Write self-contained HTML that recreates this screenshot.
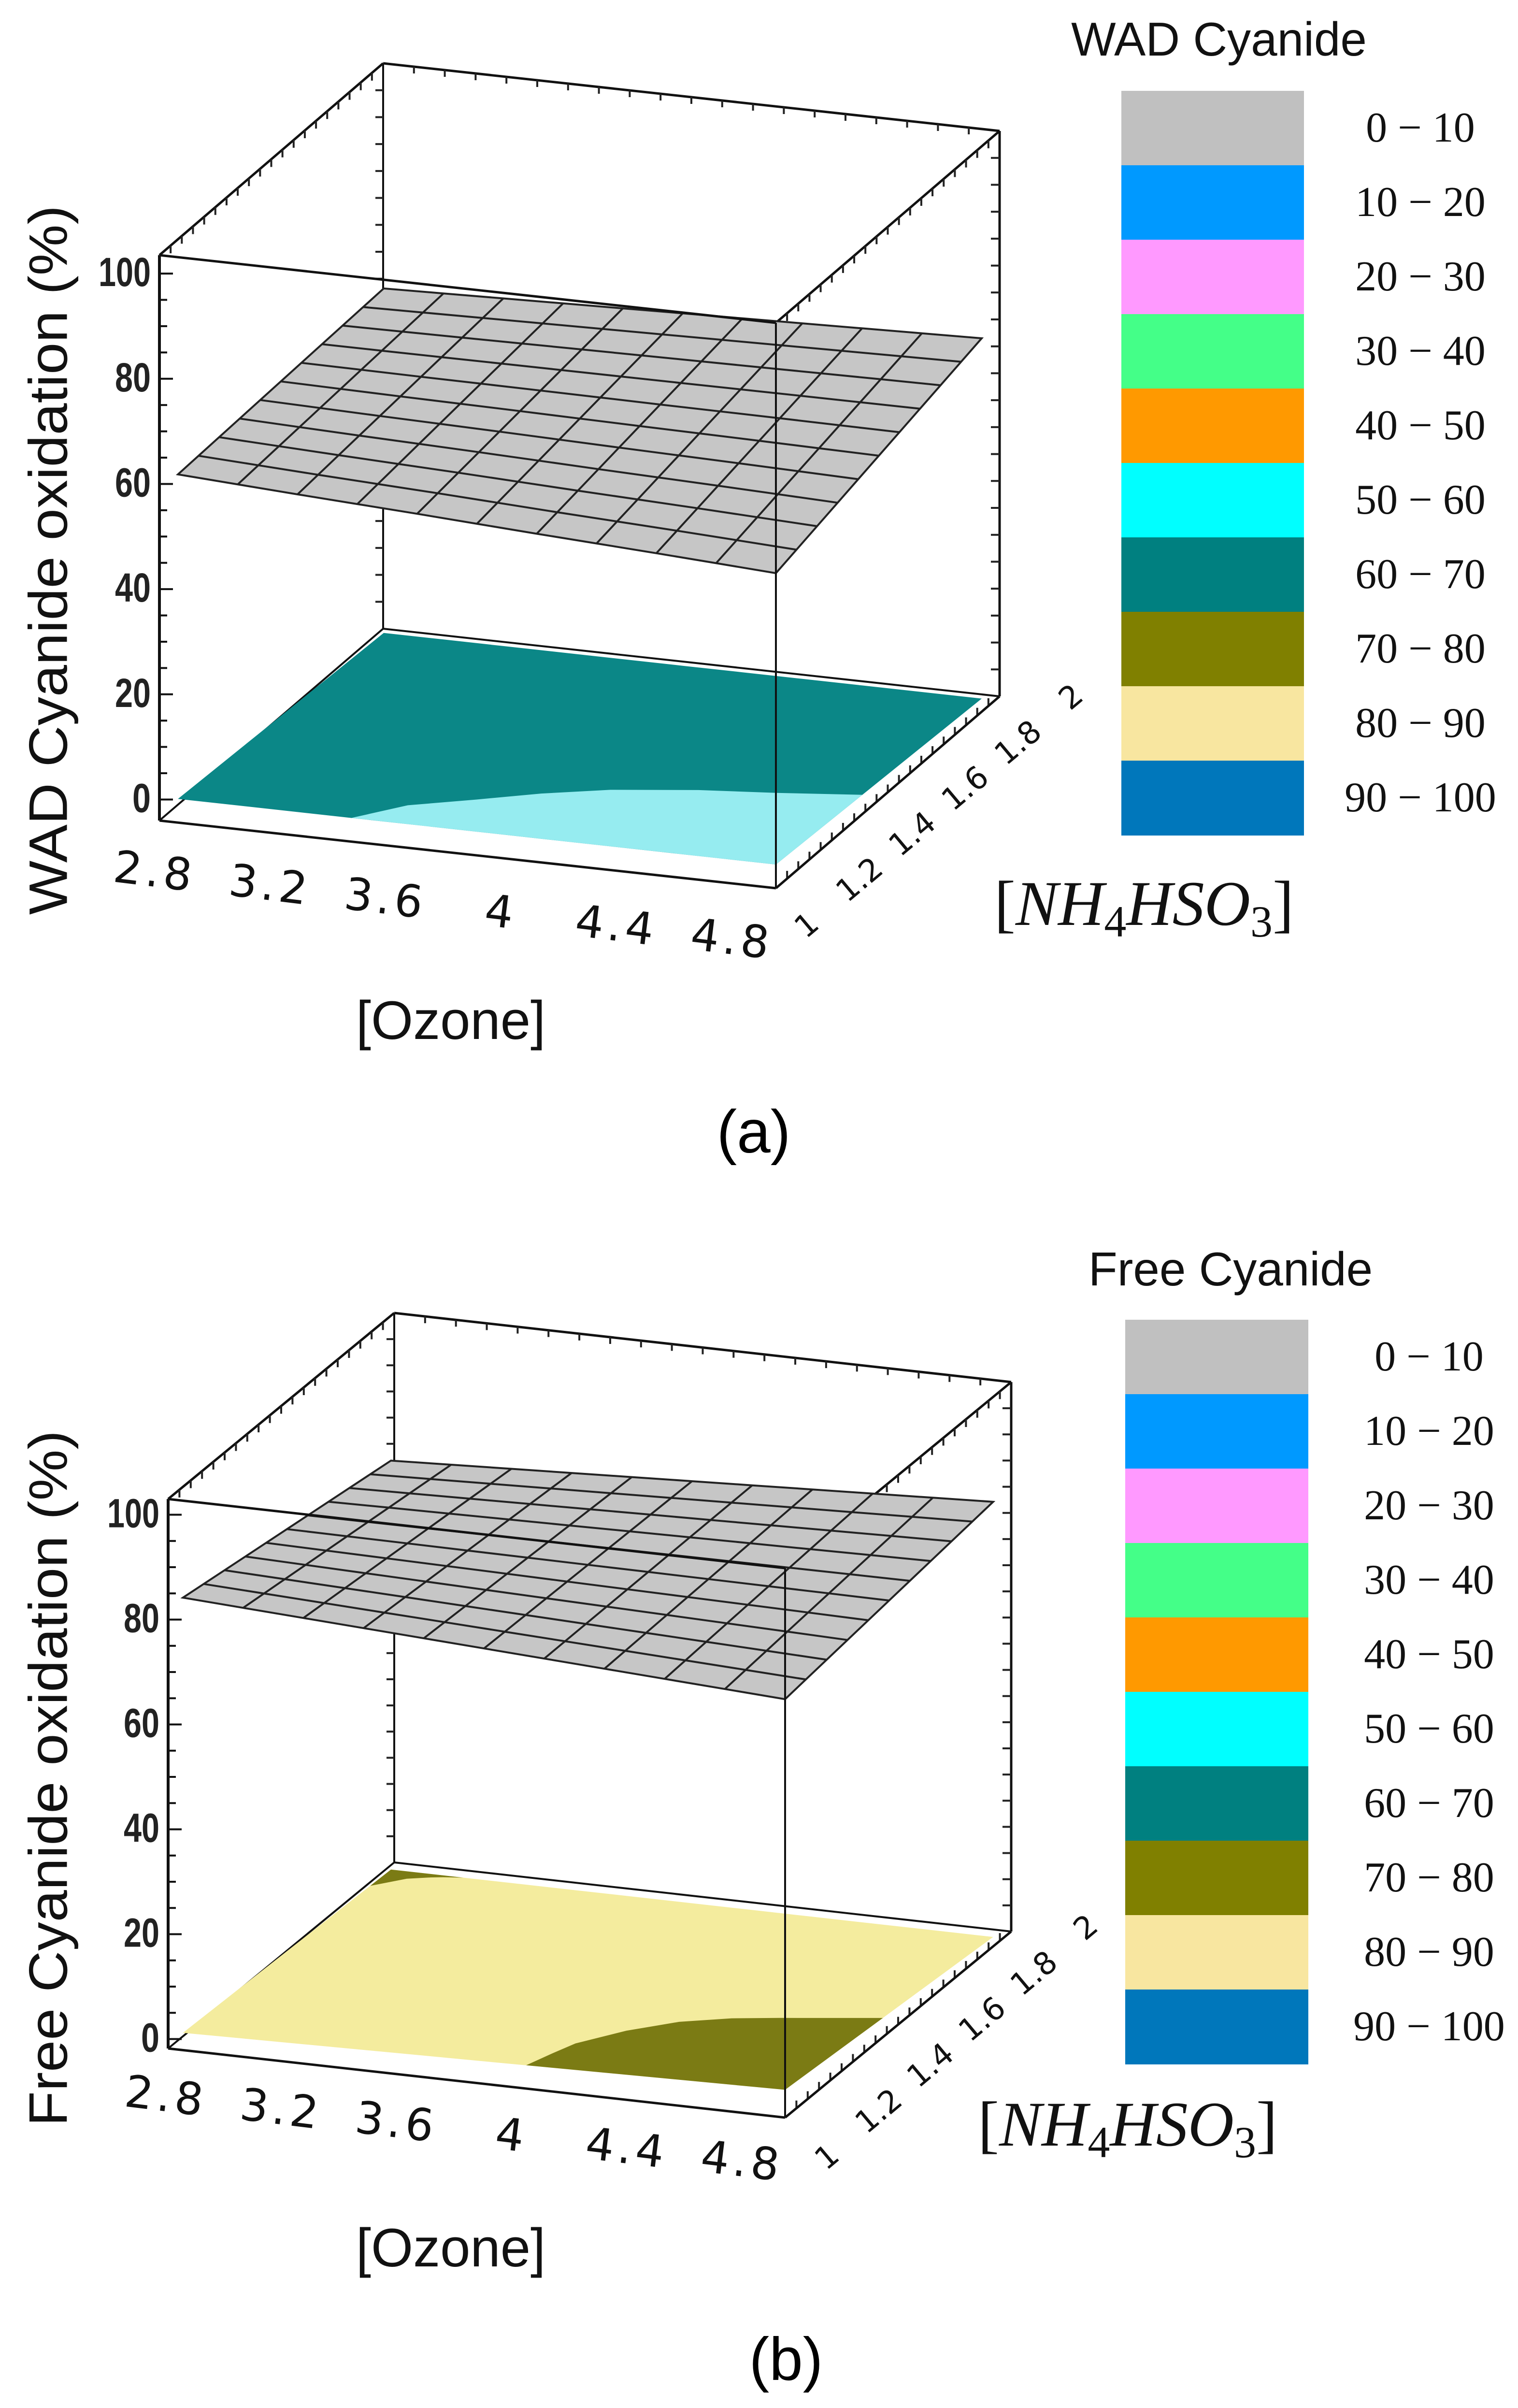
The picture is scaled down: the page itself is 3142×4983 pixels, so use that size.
<!DOCTYPE html>
<html><head><meta charset="utf-8"><style>
html,body{margin:0;padding:0;background:#fff}
svg{display:block}
</style></head><body>
<svg id="fig" xmlns="http://www.w3.org/2000/svg" width="3142" height="4983" viewBox="0 0 3142 4983">
<rect width="3142" height="4983" fill="#fff"/>
<g id="plotA"></g>
<g id="plotB"></g>
<text x="1560" y="2385" font-family="Liberation Sans, sans-serif" font-size="125" text-anchor="middle">(a)</text>
<text x="1627" y="4925" font-family="Liberation Sans, sans-serif" font-size="125" text-anchor="middle">(b)</text>
</svg>
<script>
// ---- data ----
const ozoneTicks = [2.8, 3.2, 3.6, 4.0, 4.4, 4.8];
const nh4Ticks = [1, 1.2, 1.4, 1.6, 1.8, 2];
const zTicks = [0, 20, 40, 60, 80, 100];
const legendLabels = ["0 \u2212 10","10 \u2212 20","20 \u2212 30","30 \u2212 40","40 \u2212 50","50 \u2212 60","60 \u2212 70","70 \u2212 80","80 \u2212 90","90 \u2212 100"];
const legendColors = ["#c0c0c0","#0099ff","#ff99ff","#44ff88","#ff9900","#00ffff","#008080","#808000","#f8e6a0","#0077bb"];
// plot a surfaces (z at NH4=1 front and NH4=2 back, per ozone tick)
const aGrayFront = [62.2, 60.9, 59.7, 58.4, 57.2, 55.9];
const aGrayBack  = [64.0, 64.6, 65.2, 65.8, 66.4, 67.0];
const aBaseFront = [0.5, 0.5, 0.5, 0.5, 0.5, 0.5];
const aBaseBack  = [-1.5, -1.5, -1.5, -1.5, -1.5, -1.5];
const aCyanOzone = [3.38, 3.5, 3.68, 3.85, 4.04, 4.3, 4.54, 4.8];
const aCyanNH4   = [1.0, 1.1, 1.17, 1.24, 1.30, 1.35, 1.38, 1.42];
// plot b surfaces
const bGrayFront = [84.5, 83.2, 81.9, 80.6, 79.3, 78.0];
const bGrayBack  = [78.0, 79.0, 80.0, 81.0, 82.0, 83.0];
const bBaseFront = [1.5, 1.9, 2.3, 2.7, 3.1, 3.5];
const bBaseBack  = [0, 0, 0, 0, 0, 0];
const bOliveOzone = [3.94, 3.97, 4.0, 4.1, 4.22, 4.36, 4.5, 4.8];
const bOliveNH4   = [1.0, 1.08, 1.15, 1.25, 1.33, 1.38, 1.41, 1.47];
const bCornerOzone = [2.8, 2.84, 2.88, 2.94, 2.98, 3.04];
const bCornerNH4   = [1.9, 1.93, 1.96, 1.98, 1.99, 2.0];

const NS = "http://www.w3.org/2000/svg";
function mk(tag, attrs, parent){ const e=document.createElementNS(NS,tag); for(const k in attrs) e.setAttribute(k,attrs[k]); parent.appendChild(e); return e; }

function makeCfg(O,X,D,H,zmin,zmax,u0,vmax){ return {O,X,D,H,zmin,zmax,u0,vmax}; }
function box(c,u,v,t){ return [c.O[0]+u*c.X[0]+v*c.D[0], c.O[1]+u*c.X[1]+v*c.D[1]-t*c.H]; }
function uOf(c,oz){ return c.u0+(oz-2.8)/2*(1-c.u0); }
function vOf(c,nh){ return (nh-1)*c.vmax; }
function zOf(c,z){ return (z-c.zmin)/(c.zmax-c.zmin); }
function proj(c,oz,nh,z){ return box(c,uOf(c,oz),vOf(c,nh),zOf(c,z)); }
function interpArr(arr,oz){ const f=(oz-2.8)/0.4; const i=Math.max(0,Math.min(arr.length-2,Math.floor(f))); const t=f-i; return arr[i]*(1-t)+arr[i+1]*t; }
function surfZ(front,back,oz,nh){ const a=interpArr(front,oz), b=interpArr(back,oz); const t=nh-1; return a*(1-t)+b*t; }
function pts(list){ return list.map(p=>p[0].toFixed(1)+","+p[1].toFixed(1)).join(" "); }

function drawPlot(g,c,opt){
  const L = (a,b,name,w)=>{ const e=mk("line",{x1:a[0],y1:a[1],x2:b[0],y2:b[1],stroke:"#111","stroke-width":w||5},g);
    
     return e; };
  // back edges
  L(box(c,0,1,0),box(c,0,1,1),"box-edge-back-left",4);
  L(box(c,0,1,1),box(c,1,1,1),"box-edge-top-back");
  L(box(c,1,1,0),box(c,1,1,1),"box-edge-back-right");
  L(box(c,0,0,1),box(c,0,1,1),"box-edge-top-left");
  L(box(c,1,0,1),box(c,1,1,1),"box-edge-top-right");
  L(box(c,0,0,0),box(c,0,1,0),"box-edge-bottom-left",4);
  L(box(c,0,1,0),box(c,1,1,0),"box-edge-bottom-back",4);
  // ticks on edges
  const tickEdge=(a,b,n,dx,dy,name)=>{ for(let i=1;i<n;i++){ const t=i/n; const x=a[0]+(b[0]-a[0])*t, y=a[1]+(b[1]-a[1])*t;
      const e=mk("line",{x1:x,y1:y,x2:x+dx,y2:y+dy,stroke:"#222","stroke-width":4},g);
      
       } };
  tickEdge(box(c,0,0,1),box(c,0,1,1),20,0,16,"tick-top-left");
  tickEdge(box(c,0,1,1),box(c,1,1,1),20,0,14,"tick-top-back");
  tickEdge(box(c,1,0,1),box(c,1,1,1),20,0,16,"tick-top-right");
  tickEdge(box(c,1,1,0),box(c,1,1,1),21,-18,0,"tick-back-right");
  tickEdge(box(c,0,1,0),box(c,0,1,1),21,-16,0,"tick-back-left");
  tickEdge(box(c,1,0,0),box(c,1,1,0),20,0,-16,"tick-bottom-right");
  // base surface
  const base = [];
  const N=10;
  for(let i=0;i<=N;i++){ const oz=2.8+2*i/N; base.push(proj(c,oz,1,surfZ(opt.baseF,opt.baseB,oz,1))); }
  for(let i=N;i>=0;i--){ const oz=2.8+2*i/N; base.push(proj(c,oz,2,surfZ(opt.baseF,opt.baseB,oz,2))); }
  const bp=mk("polygon",{points:pts(base),fill:opt.baseColor},g);
  
  
  // region patches
  opt.regions.forEach(r=>{
    const p=[];
    for(let i=0;i<r.oz.length;i++) p.push(proj(c,r.oz[i],r.nh[i],surfZ(opt.baseF,opt.baseB,r.oz[i],r.nh[i])));
    r.corner.forEach(k=>p.push(proj(c,k[0],k[1],surfZ(opt.baseF,opt.baseB,k[0],k[1]))));
    const e=mk("polygon",{points:pts(p),fill:r.color},g);
    
    
  });
  // gray mesh surface
  const gp=[];
  for(let i=0;i<=N;i++){ const oz=2.8+2*i/N; gp.push(proj(c,oz,1,surfZ(opt.grayF,opt.grayB,oz,1))); }
  for(let i=N;i>=0;i--){ const oz=2.8+2*i/N; gp.push(proj(c,oz,2,surfZ(opt.grayF,opt.grayB,oz,2))); }
  const gpe=mk("polygon",{points:pts(gp),fill:"#c6c6c6",stroke:"#222","stroke-width":4},g);
  
  
  for(let i=1;i<N;i++){ const oz=2.8+2*i/N;
    const l=[proj(c,oz,1,surfZ(opt.grayF,opt.grayB,oz,1)),proj(c,oz,2,surfZ(opt.grayF,opt.grayB,oz,2))];
    const e=mk("polyline",{points:pts(l),fill:"none",stroke:"#222","stroke-width":4},g);
    
     }
  for(let j=1;j<N;j++){ const nh=1+j/N; const l=[];
    for(let i=0;i<=N;i++){ const oz=2.8+2*i/N; l.push(proj(c,oz,nh,surfZ(opt.grayF,opt.grayB,oz,nh))); }
    const e=mk("polyline",{points:pts(l),fill:"none",stroke:"#222","stroke-width":4},g);
    
     }
  // front edges
  L(box(c,0,0,0),box(c,0,0,1),"box-edge-front-left",6);
  L(box(c,1,0,0),box(c,1,0,1),"box-edge-front-right",4);
  L(box(c,0,0,1),box(c,1,0,1),"box-edge-top-front");
  L(box(c,0,0,0),box(c,1,0,0),"box-edge-bottom-front");
  L(box(c,1,0,0),box(c,1,1,0),"box-edge-bottom-right");
  // z ticks
  for(let z=0; z<=100; z+=5){ const p=box(c,0,0,zOf(c,z)); const major=z%20===0;
    const e=mk("line",{x1:p[0],y1:p[1],x2:p[0]+(major?28:16),y2:p[1],stroke:"#111","stroke-width":4},g);
    
     }
  zTicks.forEach(z=>{ const p=box(c,0,0,zOf(c,z));
    const t=mk("text",{x:p[0]-18,y:p[1]+26,"font-family":"Liberation Sans, sans-serif","font-weight":"bold","font-size":84,"text-anchor":"end",fill:"#222"},g);
    t.setAttribute("textLength", String(z>=100?108:(z>0?74:38)));
    t.setAttribute("lengthAdjust","spacingAndGlyphs");
    t.textContent=z;
    
     });
  // ozone tick labels
  ozoneTicks.forEach(oz=>{ const p=box(c,uOf(c,oz),0,0); const f=(oz-2.8)/2;
    const x=p[0]+opt.ozOff0[0]+(opt.ozOff1[0]-opt.ozOff0[0])*f, y=p[1]+opt.ozOff0[1]+(opt.ozOff1[1]-opt.ozOff0[1])*f;
    const t=mk("text",{x:x,y:y,"font-family":"DejaVu Sans, sans-serif","font-size":92,"letter-spacing":8,"text-anchor":"middle","dominant-baseline":"central",transform:"rotate(7 "+x+" "+y+")",fill:"#111"},g);
    t.textContent=String(oz);
    
     });
  // nh4 tick labels
  nh4Ticks.forEach(nh=>{ const p=box(c,1,vOf(c,nh),0); const f=nh-1;
    const x=p[0]+opt.nhOff0[0]+(opt.nhOff1[0]-opt.nhOff0[0])*f, y=p[1]+opt.nhOff0[1]+(opt.nhOff1[1]-opt.nhOff0[1])*f;
    const t=mk("text",{x:x,y:y,"font-family":"DejaVu Sans, sans-serif","font-size":64,"text-anchor":"middle","dominant-baseline":"central",transform:"rotate(-40 "+x+" "+y+")",fill:"#111"},g);
    t.textContent=String(nh);
    
     });
  // titles
  const yt=mk("text",{x:0,y:0,"font-family":"Liberation Sans, sans-serif","font-size":112,"text-anchor":"middle","dominant-baseline":"central",transform:"translate("+opt.ytPos[0]+","+opt.ytPos[1]+") rotate(-90)",textLength:opt.ytLen,lengthAdjust:"spacingAndGlyphs",fill:"#111"},g);
  yt.textContent=opt.ytitle;
  
  
  const xt=mk("text",{x:opt.xtPos[0],y:opt.xtPos[1],"font-family":"Liberation Sans, sans-serif","font-size":112,"text-anchor":"middle",fill:"#111"},g);
  xt.textContent="[Ozone]";
  
  
  const nt=mk("text",{x:opt.ntPos[0],y:opt.ntPos[1],"font-family":"Liberation Serif, serif","font-size":132,"font-style":"italic","text-anchor":"middle",fill:"#111"},g);
  
  
  nt.innerHTML='<tspan font-style="normal">[</tspan>NH<tspan font-style="normal" font-size="92" dy="24">4</tspan><tspan dy="-24">HSO</tspan><tspan font-style="normal" font-size="92" dy="24">3</tspan><tspan font-style="normal" dy="-24">]</tspan>';
  // legend
  const lt=mk("text",{x:opt.legTitle[0],y:opt.legTitle[1],"font-family":"Liberation Sans, sans-serif","font-size":98,"text-anchor":"middle",fill:"#111"},g);
  lt.textContent=opt.legName;
  
  
  legendColors.forEach((col,i)=>{
    const r=mk("rect",{x:opt.leg[0],y:opt.leg[1]+i*opt.leg[3],width:opt.leg[2],height:opt.leg[3]+1,fill:col},g);
    
    
    const t=mk("text",{x:opt.legLabelX,y:opt.leg[1]+i*opt.leg[3]+opt.leg[3]/2+28,"font-family":"Liberation Serif, serif","font-size":88,"text-anchor":"middle",fill:"#111"},g);
    t.textContent=legendLabels[i];
    
    
  });
}

const cfgA = makeCfg([330,1698],[1276,140],[463,-397],1170,-4,103.5,0.03,0.92);
drawPlot(document.getElementById("plotA"), cfgA, {
  grayF:aGrayFront, grayB:aGrayBack, baseF:aBaseFront, baseB:aBaseBack, baseColor:"#0b8787",
  regions:[{name:"region-50-60", color:"#96ecf0", oz:aCyanOzone, nh:aCyanNH4, corner:[[4.8,1],[3.38,1]]}],
  ozOff0:[-48,101], ozOff1:[-91,105], nhOff0:[64,77], nhOff1:[185,-30],
  ytitle:"WAD Cyanide oxidation (%)", ytPos:[100,1159], ytLen:1468,
  xtPos:[933,2150], ntPos:[2368,1914],
  legName:"WAD Cyanide", legTitle:[2523,115], leg:[2321,188,378,154], legLabelX:2940
});

const cfgB = makeCfg([348,4239],[1277,143],[468,-385],1137,-1.8,103,0.024,0.92);
drawPlot(document.getElementById("plotB"), cfgB, {
  grayF:bGrayFront, grayB:bGrayBack, baseF:bBaseFront, baseB:bBaseBack, baseColor:"#f4ec9e",
  regions:[{name:"region-70-80", color:"#7b7b14", oz:bOliveOzone, nh:bOliveNH4, corner:[[4.8,1],[3.94,1]]},
           {name:"region-70-80-corner", color:"#7b7b14", oz:bCornerOzone, nh:bCornerNH4, corner:[[2.8,2]]}],
  ozOff0:[-35,95], ozOff1:[-89,90], nhOff0:[87,82], nhOff1:[192,-39],
  ytitle:"Free Cyanide oxidation (%)", ytPos:[100,3680], ytLen:1440,
  xtPos:[933,4690], ntPos:[2334,4440],
  legName:"Free Cyanide", legTitle:[2547,2660], leg:[2329,2731,379,154], legLabelX:2958
});
</script>
</body></html>
